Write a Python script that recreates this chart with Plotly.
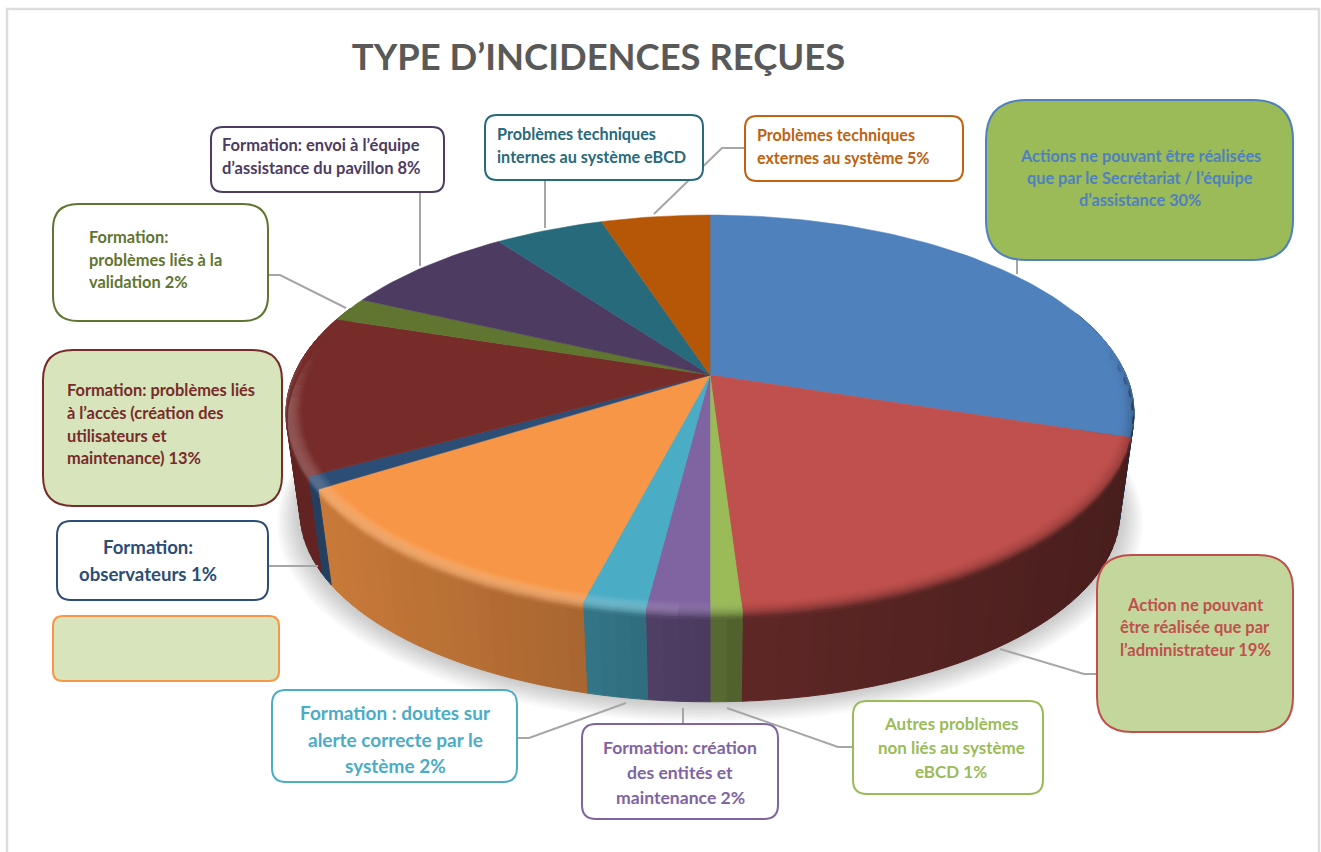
import numpy as np
import plotly.graph_objects as go

# ---- chart data -------------------------------------------------------------
categories = [
    "Actions ne pouvant être réalisées que par le Secrétariat / l’équipe d’assistance",
    "Action ne pouvant être réalisée que par l’administrateur",
    "Autres problèmes non liés au système eBCD",
    "Formation: création des entités et maintenance",
    "Formation : doutes sur alerte correcte par le système",
    "Formation: autres",
    "Formation: observateurs",
    "Formation: problèmes liés à l’accès (création des utilisateurs et maintenance)",
    "Formation: problèmes liés à la validation",
    "Formation: envoi à l’équipe d’assistance du pavillon",
    "Problèmes techniques internes au système eBCD",
    "Problèmes techniques externes au système",
]
values = [30, 19, 1, 2, 2, 12, 1, 13, 2, 8, 5, 5]
slice_colors = ["#4F81BD", "#C0504D", "#9BBB59", "#8064A2", "#4BACC6", "#F79646",
                "#2C4D75", "#772C2A", "#5F7530", "#4D3B62", "#276A7C", "#B65708"]
title_text = "TYPE D’INCIDENCES REÇUES"

# ---- perspective model of the pie (top face and bottom face) ----------------
CX = 710
TILT = 0.194
TOP = dict(rx=416, ry=191, y0=375)
BOTTOM = dict(rx=402, ry=182, y0=476)


def project(theta, r, plane):
    u = r * np.sin(np.radians(theta))
    v = -r * np.cos(np.radians(theta))
    w = 1 - TILT * v
    return CX + plane["rx"] * u / w, plane["y0"] + plane["ry"] * v / w


def rim_point(theta, s):
    """Position across the bevel: s<=0.6 on the top face, above that down the wall."""
    if s <= 0.6:
        return project(theta, 0.965 + 0.035 * s / 0.6, TOP)
    d = (s - 0.6) / 0.4 * 0.08
    xt, yt = project(theta, 1, TOP)
    xb, yb = project(theta, 1, BOTTOM)
    return xt + (xb - xt) * d, yt + (yb - yt) * d


def hex_rgb(c):
    return np.array([int(c[i:i + 2], 16) for i in (1, 3, 5)], dtype=float)


def css(rgb):
    r, g, b = np.clip(np.round(rgb), 0, 255).astype(int)
    return f"rgb({r},{g},{b})"


def wall_shade(x):
    t = (x - CX) / 410
    return np.interp(t, [-1, -0.27, 0, 0.1, 1], [0.82, 0.67, 0.58, 0.49, 0.38])


def arc_steps(a0, a1, step, lo, hi):
    a0, a1 = max(a0, lo), min(a1, hi)
    if a1 <= a0:
        return []
    n = max(1, int(np.ceil((a1 - a0) / step)))
    return list(np.linspace(a0, a1, n + 1))


def polygon(xs, ys, color, name=None, width=1):
    return go.Scatter(x=xs, y=ys, mode="lines", fill="toself", fillcolor=color,
                      line=dict(color=color, width=width), hoverinfo="skip",
                      name=name, showlegend=False)


fig = go.Figure()

# soft ground shadow beneath the disc
grid = np.linspace(0, 360, 181)
for i in range(9, 0, -1):
    pts = [project(a, 1 + 0.006 * i, BOTTOM) for a in grid]
    fig.add_trace(go.Scatter(x=[p[0] for p in pts], y=[p[1] + 0.6 * i for p in pts],
                             mode="lines", fill="toself", fillcolor="rgba(0,0,0,0.022)",
                             line=dict(width=0), hoverinfo="skip", showlegend=False))

edges = 3.6 * np.concatenate([[0], np.cumsum(values)])

# side wall, one thin strip at a time so the shading can vary along it
for a0, a1, col in zip(edges[:-1], edges[1:], slice_colors):
    steps = arc_steps(a0, a1, 2.0, 70, 292)
    base = hex_rgb(col)
    for p, q in zip(steps[:-1], steps[1:]):
        x0, y0 = project(p, 1, TOP)
        x1, y1 = project(q, 1, TOP)
        x2, y2 = project(q, 1, BOTTOM)
        x3, y3 = project(p, 1, BOTTOM)
        fig.add_trace(polygon([x0, x1, x2, x3, x0], [y0, y1, y2, y3, y0],
                              css(base * wall_shade((x0 + x1) / 2))))

# flat top face
for cat, val, a0, a1, col in zip(categories, values, edges[:-1], edges[1:], slice_colors):
    arc = np.linspace(a0, a1, max(3, int((a1 - a0) / 1.5) + 2))
    pts = [project(a, 1, TOP) for a in arc]
    xs = [CX] + [p[0] for p in pts] + [CX]
    ys = [TOP["y0"]] + [p[1] for p in pts] + [TOP["y0"]]
    fig.add_trace(polygon(xs, ys, col, name=f"{cat} {val}%", width=0.5))

# rounded bevel between the top face and the wall
BEVEL = np.linspace(0, 1, 11)
WHITE = np.array([255.0, 255.0, 255.0])
for a0, a1, col in zip(edges[:-1], edges[1:], slice_colors):
    steps = arc_steps(a0, a1, 4.0, 78, 282)
    base = hex_rgb(col)
    for p, q in zip(steps[:-1], steps[1:]):
        mid = (p + q) / 2
        xm, _ = project(mid, 1, TOP)
        fade = np.clip((-np.cos(np.radians(mid)) + 0.15) / 0.3, 0, 1)
        wall = base * wall_shade(xm)
        glow = np.clip((0.1 - (xm - CX) / 410) / 0.3, 0, 1)
        for s0, s1 in zip(BEVEL[:-1], BEVEL[1:]):
            s = (s0 + s1) / 2
            rgb = base + (wall - base) * (s ** 2)
            rgb = base + (rgb - base) * fade
            rgb = rgb + (WHITE - rgb) * 0.2 * glow * np.sin(np.pi * s) * fade
            a = rim_point(p, s0)
            b = rim_point(q, s0)
            c = rim_point(q, s1)
            d = rim_point(p, s1)
            fig.add_trace(polygon([a[0], b[0], c[0], d[0], a[0]],
                                  [a[1], b[1], c[1], d[1], a[1]], css(rgb), width=0.8))

# ---- callouts ---------------------------------------------------------------
WHITE_FILL = "#FFFFFF"
callouts = [
    dict(box=(986, 100, 1293, 260), r=40, stroke="#4F81BD", fill="#9BBB59", ink="#4F81BD", size=16.3,
         anchor="center", x=1140, ys=(155, 177, 199),
         lines=("Actions ne pouvant être réalisées", "que par le Secrétariat / l’équipe", "d’assistance 30%")),
    dict(box=(1097, 555, 1293, 732), r=35, stroke="#C0504D", fill="#C3D69B", ink="#C0504D", size=16.5,
         anchor="center", x=1195, ys=(605, 627, 650),
         lines=("Action ne pouvant", "être réalisée que par", "l’administrateur 19%")),
    dict(box=(853, 701, 1043, 794), r=14, stroke="#9BBB59", fill=WHITE_FILL, ink="#9BBB59", size=17,
         anchor="center", x=951, ys=(723, 747, 771),
         lines=("Autres problèmes", "non liés au système", "eBCD 1%")),
    dict(box=(582, 724, 778, 819), r=14, stroke="#8064A2", fill=WHITE_FILL, ink="#8064A2", size=17.6,
         anchor="center", x=680, ys=(747, 772, 797),
         lines=("Formation: création", "des entités et", "maintenance 2%")),
    dict(box=(272, 690, 517, 782), r=14, stroke="#4BACC6", fill=WHITE_FILL, ink="#4BACC6", size=19,
         anchor="center", x=395, ys=(712, 739, 765),
         lines=("Formation : doutes sur", "alerte correcte par le", "système 2%")),
    dict(box=(53, 616, 279, 681), r=10, stroke="#F79646", fill="#D8E4BC", ink="#F79646", size=14,
         anchor="center", x=166, ys=(), lines=()),
    dict(box=(57, 521, 268, 600), r=14, stroke="#2C4D75", fill=WHITE_FILL, ink="#2C4D75", size=18.6,
         anchor="center", x=148, ys=(547, 574),
         lines=("Formation:", "observateurs 1%")),
    dict(box=(43, 350, 282, 506), r=30, stroke="#772C2A", fill="#D8E4BC", ink="#772C2A", size=16.4,
         anchor="left", x=65, ys=(389, 412, 435, 457),
         lines=("Formation: problèmes liés", "à l’accès (création des", "utilisateurs et", "maintenance) 13%")),
    dict(box=(53, 204, 268, 321), r=25, stroke="#5F7530", fill=WHITE_FILL, ink="#5F7530", size=16.4,
         anchor="left", x=87, ys=(236, 259, 281),
         lines=("Formation:", "problèmes liés à la", "validation 2%")),
    dict(box=(211, 127, 444, 192), r=12, stroke="#4D3B62", fill=WHITE_FILL, ink="#4D3B62", size=16.5,
         anchor="left", x=220, ys=(145, 168),
         lines=("Formation: envoi à l’équipe", "d’assistance du pavillon 8%")),
    dict(box=(485, 115, 703, 180), r=12, stroke="#276A7C", fill=WHITE_FILL, ink="#276A7C", size=16.2,
         anchor="left", x=495, ys=(133, 156),
         lines=("Problèmes techniques", "internes au système eBCD")),
    dict(box=(745, 116, 963, 181), r=12, stroke="#C0620F", fill=WHITE_FILL, ink="#C0620F", size=16.1,
         anchor="left", x=755, ys=(134, 157),
         lines=("Problèmes techniques", "externes au système 5%")),
]

leaders = [
    [(1017, 260), (1017, 274)],
    [(1000, 649), (1084, 674), (1097, 674)],
    [(727, 708), (838, 747), (853, 747)],
    [(683, 708), (683, 724)],
    [(626, 703), (529, 738), (516, 738)],
    [(268, 566), (318, 566)],
    [(268, 275), (280, 275), (346, 308)],
    [(420, 192), (420, 266)],
    [(545, 180), (545, 228)],
    [(745, 148), (722, 148), (654, 214)],
]


def rounded_path(x0, y0, x1, y1, r):
    return (f"M{x0 + r},{y0} L{x1 - r},{y0} Q{x1},{y0} {x1},{y0 + r} L{x1},{y1 - r} "
            f"Q{x1},{y1} {x1 - r},{y1} L{x0 + r},{y1} Q{x0},{y1} {x0},{y1 - r} "
            f"L{x0},{y0 + r} Q{x0},{y0} {x0 + r},{y0} Z")


shapes = [dict(type="rect", x0=7, y0=9, x1=1319, y1=870, layer="below",
               line=dict(color="#DDDDDD", width=2.5), fillcolor="rgba(0,0,0,0)")]
for path in leaders:
    d = "M" + " L".join(f"{x},{y}" for x, y in path)
    shapes.append(dict(type="path", path=d, layer="above",
                       line=dict(color="#A6A6A6", width=2)))

annotations = []
for c in callouts:
    shapes.append(dict(type="path", path=rounded_path(*c["box"], c["r"]), layer="above",
                       fillcolor=c["fill"], line=dict(color=c["stroke"], width=2)))
    for y, line in zip(c["ys"], c["lines"]):
        annotations.append(dict(x=c["x"], y=y, xref="x", yref="y", text=line, showarrow=False,
                                xanchor=c["anchor"], yanchor="middle",
                                font=dict(family="Lato", size=c["size"], color=c["ink"], weight="bold")))

fig.update_layout(
    width=1321, height=852, margin=dict(l=0, r=0, t=0, b=0, pad=0),
    paper_bgcolor="white", plot_bgcolor="white", showlegend=False, hovermode=False,
    xaxis=dict(range=[0, 1321], visible=False, fixedrange=True),
    yaxis=dict(range=[852, 0], visible=False, fixedrange=True),
    title=dict(text=title_text, x=598.5 / 1321, xanchor="center", y=1 - 57 / 852, yanchor="middle",
               font=dict(family="Lato", size=36.4, color="#595959", weight="bold")),
    shapes=shapes, annotations=annotations,
)

fig.write_html("out.html", config=dict(displayModeBar=False))
